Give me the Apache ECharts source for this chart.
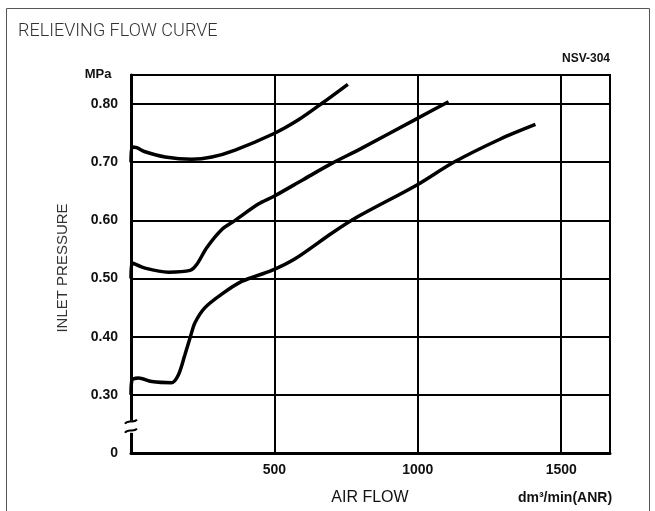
<!DOCTYPE html>
<html><head><meta charset="utf-8">
<script src="https://cdn.jsdelivr.net/npm/echarts@6/dist/echarts.min.js"></script>
<style>html,body{margin:0;padding:0;background:#fff}#c{width:655px;height:511px}</style>
</head><body><div id="c"></div>
<script>
// Data (air flow dm3/min(ANR), inlet pressure MPa)
const curve070 = [[0,0.700],[3,0.726],[20,0.725],[49,0.718],[119,0.709],[212,0.705],[282,0.709],[363,0.721],[497,0.749],[584,0.773],[665,0.801],[756,0.834]];
const curve050 = [[0,0.500],[3,0.527],[49,0.518],[130,0.511],[206,0.514],[229,0.524],[264,0.553],[316,0.584],[363,0.600],[444,0.628],[497,0.641],[600,0.670],[700,0.698],[800,0.723],[997,0.775],[1107,0.804]];
const curve030 = [[0,0.300],[3,0.325],[26,0.329],[72,0.323],[142,0.321],[165,0.334],[188,0.369],[206,0.398],[223,0.424],[258,0.450],[316,0.473],[386,0.495],[491,0.514],[572,0.534],[700,0.578],[793,0.607],[997,0.661],[1125,0.700],[1288,0.740],[1410,0.765]];
const xTickValues = [500, 1000, 1500];
const xTickLabels = ['500', '1000', '1500'];
const yTickValues = [0.2, 0.3, 0.4, 0.5, 0.6, 0.7, 0.8];
const yTickLabels = ['0', '0.30', '0.40', '0.50', '0.60', '0.70', '0.80'];

const chart = echarts.init(document.getElementById('c'), null, {renderer: 'canvas'});
const lineStyle = {color: '#000', width: 3.5};
const mkSeries = d => ({type: 'line', data: d, showSymbol: false, smooth: 0.3, lineStyle: lineStyle, z: 5, animation: false});
const txtFont = '"Liberation Sans", Arial, sans-serif';

chart.setOption({
  animation: false,
  grid: {left: 131, top: 75, right: 45, bottom: 58, show: true, borderColor: '#000', borderWidth: 2},
  xAxis: {
    type: 'value', min: 0, max: 1670, interval: 500,
    axisLine: {show: true, lineStyle: {color: '#000', width: 3}},
    axisTick: {show: false},
    splitLine: {show: true, lineStyle: {color: '#000', width: 2}},
    axisLabel: {
      color: '#111', fontFamily: txtFont, fontWeight: 'bold', fontSize: 14, margin: 10,
      formatter: v => { const i = xTickValues.indexOf(Math.round(v)); return i >= 0 ? xTickLabels[i] : ''; }
    }
  },
  yAxis: {
    type: 'value', min: 0.2, max: 0.85, interval: 0.1,
    axisLine: {show: true, lineStyle: {color: '#000', width: 3}},
    axisTick: {show: false},
    splitLine: {show: true, lineStyle: {color: '#000', width: 2}},
    axisLabel: {
      color: '#111', fontFamily: txtFont, fontWeight: 'bold', fontSize: 14, margin: 13,
      formatter: v => { const i = yTickValues.findIndex(t => Math.abs(t - v) < 1e-6); return i >= 0 ? yTickLabels[i] : ''; }
    }
  },
  series: [mkSeries(curve070), mkSeries(curve050), mkSeries(curve030)]
});

// decorations: frame, titles, axis break mark
const yb = chart.convertToPixel({yAxisIndex: 0}, 0.245);
const xb = chart.convertToPixel({xAxisIndex: 0}, 0);
chart.setOption({
  graphic: [
    {type: 'rect', shape: {x: 6.5, y: 8.5, width: 643, height: 520}, style: {fill: 'none', stroke: '#555', lineWidth: 1}, silent: true},
    {type: 'text', x: 18, y: 22, style: {text: 'RELIEVING FLOW CURVE', font: '300 18px Roboto, "Liberation Sans", sans-serif', fill: '#333'}},
    {type: 'text', x: 610, y: 53, style: {text: 'NSV-304', font: 'bold 12px ' + txtFont, fill: '#111', align: 'right'}},
    {type: 'text', x: 98, y: 74, style: {text: 'MPa', font: 'bold 13px ' + txtFont, fill: '#111', align: 'center', verticalAlign: 'middle'}},
    {type: 'text', x: 370, y: 498, style: {text: 'AIR FLOW', font: '16px ' + txtFont, fill: '#111', align: 'center', verticalAlign: 'middle'}},
    {type: 'text', x: 565, y: 498, style: {text: 'dm³/min(ANR)', font: 'bold 14px ' + txtFont, fill: '#111', align: 'center', verticalAlign: 'middle'}},
    {type: 'text', x: 63, y: 268, rotation: Math.PI / 2, style: {text: 'INLET PRESSURE', font: '15px ' + txtFont, fill: '#333', align: 'center', verticalAlign: 'middle'}},
    {type: 'rect', shape: {x: xb - 6, y: yb - 6, width: 12, height: 12}, style: {fill: '#fff'}, z: 100},
    {type: 'bezierCurve', shape: {x1: xb - 6, y1: yb - 3, cpx1: xb - 3, cpy1: yb - 8, cpx2: xb + 2, cpy2: yb - 3, x2: xb + 6, y2: yb - 7}, style: {fill: 'none', stroke: '#000', lineWidth: 2}, z: 101},
    {type: 'bezierCurve', shape: {x1: xb - 6, y1: yb + 6, cpx1: xb - 3, cpy1: yb + 1, cpx2: xb + 2, cpy2: yb + 6, x2: xb + 6, y2: yb + 2}, style: {fill: 'none', stroke: '#000', lineWidth: 2}, z: 101}
  ]
});
</script></body></html>
